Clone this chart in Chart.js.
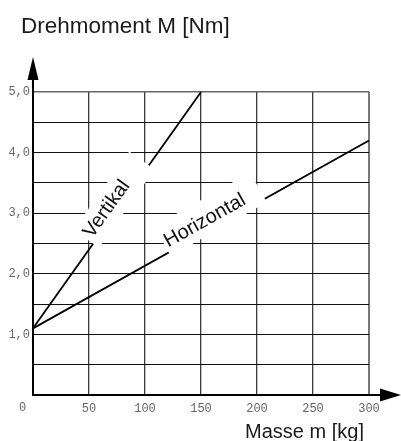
<!DOCTYPE html>
<html><head><meta charset="utf-8">
<script src="https://cdn.jsdelivr.net/npm/chart.js@4"></script>
<style>html,body{margin:0;padding:0;background:#fff}#wrap{width:401px;height:441px}</style>
</head><body><div id="wrap"><canvas id="c" width="401" height="441"></canvas></div>
<script>
// ---- data ----
const massTicks = [50, 100, 150, 200, 250, 300];
const torqueTicks = [1.0, 2.0, 3.0, 4.0, 5.0];
const vertikalMass = [0, 150];
const vertikalTorque = [1.1, 5.0];
const horizontalMass = [0, 300];
const horizontalTorque = [1.1, 4.2];
const seriesNames = ['Vertikal', 'Horizontal'];
const originLabel = '0';
const titleText = 'Drehmoment M [Nm]';
const xTitleText = 'Masse m [kg]';

// ---- style ----
const SANS = '"Liberation Sans", Arial, sans-serif';
const MONO = '"Liberation Mono", "DejaVu Sans Mono", monospace';
const labelPlacement = [
  {t: 0.524, mask: [-48, 48, -24, 7], text: [-12, -9]},
  {t: 0.547, mask: [-55, 55, -30, 4], text: [-8, -10]}
];

const toPts = (xs, ys) => xs.map((x, i) => ({x: x, y: ys[i]}));

const deco = {
  id: 'deco',
  afterDatasetsDraw(chart) {
    const ctx = chart.ctx;
    chart.data.datasets.forEach((ds, i) => {
      const meta = chart.getDatasetMeta(i);
      const a = meta.data[0], b = meta.data[meta.data.length - 1];
      const pl = labelPlacement[i];
      const cx = a.x + (b.x - a.x) * pl.t, cy = a.y + (b.y - a.y) * pl.t;
      const ang = Math.atan2(b.y - a.y, b.x - a.x);
      ctx.save();
      ctx.translate(cx, cy);
      ctx.rotate(ang);
      ctx.fillStyle = '#fff';
      ctx.fillRect(pl.mask[0], pl.mask[2], pl.mask[1] - pl.mask[0], pl.mask[3] - pl.mask[2]);
      ctx.fillStyle = '#111';
      ctx.font = '20px ' + SANS;
      ctx.textAlign = 'center';
      ctx.textBaseline = 'middle';
      ctx.fillText(ds.label, pl.text[0], pl.text[1]);
      ctx.restore();
    });
  },
  afterDraw(chart) {
    const ctx = chart.ctx, xs = chart.scales.x, ys = chart.scales.y;
    const x0 = xs.getPixelForValue(0), y0 = ys.getPixelForValue(0);
    const area = chart.chartArea;
    ctx.save();
    ctx.strokeStyle = '#000';
    ctx.fillStyle = '#000';
    ctx.lineWidth = 2;
    ctx.beginPath();
    ctx.moveTo(x0, y0 + 1);
    ctx.lineTo(x0, area.top - 12);
    ctx.moveTo(x0 - 1, y0);
    ctx.lineTo(area.right + 12, y0);
    ctx.stroke();
    ctx.beginPath();
    ctx.moveTo(x0, area.top - 35);
    ctx.lineTo(x0 - 5.5, area.top - 12);
    ctx.lineTo(x0 + 5.5, area.top - 12);
    ctx.closePath();
    ctx.fill();
    ctx.beginPath();
    ctx.moveTo(area.right + 32, y0);
    ctx.lineTo(area.right + 11, y0 - 6.5);
    ctx.lineTo(area.right + 11, y0 + 6.5);
    ctx.closePath();
    ctx.fill();
    // texts
    ctx.fillStyle = '#666';
    ctx.font = '12px ' + MONO;
    ctx.textAlign = 'center';
    ctx.textBaseline = 'middle';
    ctx.fillText(originLabel, x0 - 10.5, y0 + 13);
    ctx.fillStyle = '#1a1a1a';
    ctx.font = '22.5px ' + SANS;
    ctx.textAlign = 'left';
    ctx.textBaseline = 'alphabetic';
    ctx.fillText(titleText, 21, 32.5);
    ctx.font = '20px ' + SANS;
    ctx.textAlign = 'right';
    ctx.fillText(xTitleText, 364, 437.5);
    ctx.restore();
  }
};

new Chart(document.getElementById('c'), {
  type: 'line',
  data: {
    datasets: [
      {label: seriesNames[0], data: toPts(vertikalMass, vertikalTorque)},
      {label: seriesNames[1], data: toPts(horizontalMass, horizontalTorque)}
    ]
  },
  options: {
    responsive: false,
    animation: false,
    events: [],
    layout: {padding: {top: 92, right: 32, bottom: 0, left: 0}},
    elements: {
      line: {borderColor: '#000', borderWidth: 1.8, tension: 0, fill: false},
      point: {radius: 0}
    },
    datasets: {line: {clip: false}},
    plugins: {legend: {display: false}, tooltip: {enabled: false}, title: {display: false}},
    scales: {
      x: {
        type: 'linear', min: 0, max: 300,
        border: {display: false},
        afterFit: s => { s.height = 46; },
        grid: {
          drawTicks: false,
          color: c => c.tick.value === 0 ? 'rgba(0,0,0,0)' : (c.tick.value === 300 ? '#777' : '#3a3a3a'),
          lineWidth: c => c.tick.value === 300 ? 2 : 1.3
        },
        ticks: {
          stepSize: 50, autoSkip: false, maxRotation: 0, padding: 7,
          color: '#666', font: {family: MONO, size: 12},
          callback: v => massTicks.includes(v) ? String(v) : ''
        }
      },
      y: {
        type: 'linear', min: 0, max: 5,
        border: {display: false},
        afterFit: s => { s.width = 33; },
        grid: {
          drawTicks: false,
          color: c => c.tick.value === 0 ? 'rgba(0,0,0,0)' : (c.tick.value === 5 ? '#666' : '#111'),
          lineWidth: c => c.tick.value === 5 ? 1.5 : 1
        },
        ticks: {
          stepSize: 0.5, autoSkip: false, padding: 3,
          color: '#666', font: {family: MONO, size: 12},
          callback: v => torqueTicks.includes(v) ? v.toFixed(1).replace('.', ',') : ''
        }
      }
    }
  },
  plugins: [deco]
});
</script>
</body></html>
